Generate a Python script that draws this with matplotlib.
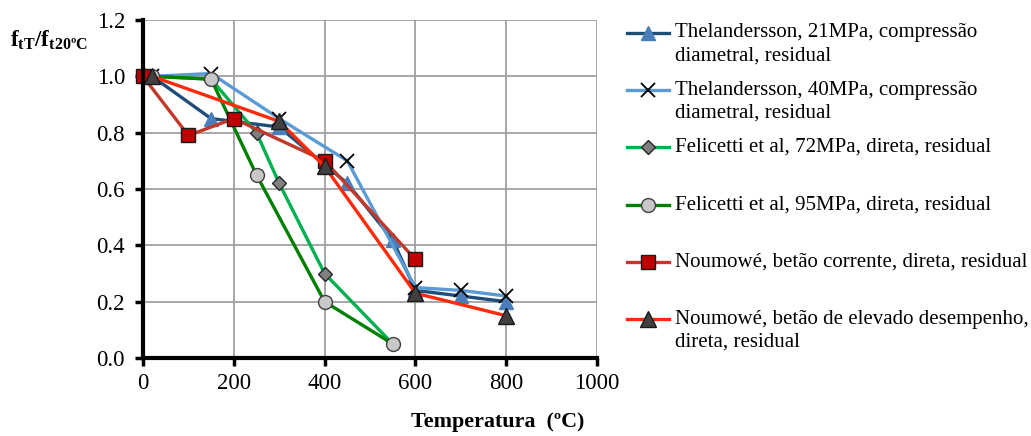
import matplotlib.pyplot as plt
from matplotlib.lines import Line2D

plt.rcParams['font.family'] = ['Liberation Serif', 'DejaVu Serif']
plt.rcParams['mathtext.fontset'] = 'custom'
plt.rcParams['mathtext.rm'] = 'Liberation Serif'
plt.rcParams['mathtext.bf'] = 'Liberation Serif:bold'

# dados (temperatura em ºC, fT/f20)
t_thel21 = [20, 150, 300, 450, 550, 600, 700, 800]
v_thel21 = [1.00, 0.85, 0.82, 0.62, 0.42, 0.24, 0.22, 0.20]

t_thel40 = [20, 150, 300, 450, 600, 700, 800]
v_thel40 = [1.00, 1.01, 0.85, 0.70, 0.25, 0.24, 0.22]

t_fel72 = [20, 150, 250, 300, 400, 550]
v_fel72 = [1.00, 0.99, 0.80, 0.62, 0.30, 0.05]

t_fel95 = [20, 150, 250, 400, 550]
v_fel95 = [1.00, 0.99, 0.65, 0.20, 0.05]

t_nou_c = [0, 100, 200, 400, 600]
v_nou_c = [1.00, 0.79, 0.85, 0.70, 0.35]

t_nou_hp = [20, 300, 400, 600, 800]
v_nou_hp = [1.00, 0.84, 0.68, 0.23, 0.15]

labels = ['Thelandersson, 21MPa, compressão\ndiametral, residual',
          'Thelandersson, 40MPa, compressão\ndiametral, residual',
          'Felicetti et al, 72MPa, direta, residual',
          'Felicetti et al, 95MPa, direta, residual',
          'Noumowé, betão corrente, direta, residual',
          'Noumowé, betão de elevado desempenho,\ndireta, residual']

xticks = [0, 200, 400, 600, 800, 1000]
yticks = [0.0, 0.2, 0.4, 0.6, 0.8, 1.0, 1.2]

# estilos: cor da linha, marcador, tamanho, cor de preenchimento, cor do contorno
estilos = [
    dict(color='#1F4E79', marker='^', ms=10, mfc='#4A7EBB', mec='#4A7EBB'),
    dict(color='#5B9BD5', marker='x', ms=10, mfc='black', mec='black', mew=1.3),
    dict(color='#00B050', marker='D', ms=7, mfc='#7F7F7F', mec='#262626', mew=1.0),
    dict(color='#008000', marker='o', ms=10, mfc='#C8C8C8', mec='#404040', mew=1.0),
    dict(color='#C0392B', marker='s', ms=10, mfc='#C00000', mec='#1A1A1A', mew=1.0),
    dict(color='#FF2A0A', marker='^', ms=11, mfc='#404040', mec='#1A1A1A', mew=1.0),
]
series = [(t_thel21, v_thel21), (t_thel40, v_thel40), (t_fel72, v_fel72),
          (t_fel95, v_fel95), (t_nou_c, v_nou_c), (t_nou_hp, v_nou_hp)]

fig = plt.figure(figsize=(10.31, 4.36), dpi=100)
ax = fig.add_axes([143 / 1031, 1 - 358 / 436, (597 - 143) / 1031, (358 - 20) / 436])

for (tx, vy), st in zip(series, estilos):
    ax.plot(tx, vy, lw=2.4, clip_on=False, **st)

ax.set_xlim(0, 1000)
ax.set_ylim(0, 1.2)
ax.set_xticks(xticks)
ax.set_yticks(yticks)
ax.set_yticklabels(['%.1f' % v for v in yticks])
ax.tick_params(labelsize=16.5, width=2.5, length=6, direction='out', colors='black')
ax.tick_params(axis='y', pad=7)
ax.tick_params(axis='x', pad=5)
ax.grid(True, color='#A0A0A0', lw=1.3)
ax.set_axisbelow(True)
for s in ['top', 'right']:
    ax.spines[s].set_visible(False)
for s in ['left', 'bottom']:
    ax.spines[s].set_linewidth(3)

fig.text(10 / 1031, 1 - 40 / 436, r'$\mathbf{f}_{\mathbf{tT}}\mathbf{/f}_{\mathbf{t20ºC}}$',
         fontsize=16.5, va='center', ha='left')
fig.text(498 / 1031, 1 - 422 / 436, 'Temperatura  (ºC)', fontsize=15.8,
         fontweight='bold', ha='center', va='center')

# legenda manual (marcador alinhado com a primeira linha do texto)
y0 = 33
for i, (lab, st) in enumerate(zip(labels, estilos)):
    yc = 1 - (y0 + i * 57.2) / 436
    fig.add_artist(Line2D([627 / 1031, 669 / 1031], [yc, yc], lw=2.4, color=st['color'],
                          transform=fig.transFigure))
    mk = {k: v for k, v in st.items() if k != 'color'}
    fig.add_artist(Line2D([648 / 1031], [yc], lw=0, transform=fig.transFigure,
                          marker=mk['marker'], markersize=mk['ms'], markerfacecolor=mk['mfc'],
                          markeredgecolor=mk['mec'], markeredgewidth=mk.get('mew', 1.0)))
    for j, linha in enumerate(lab.split('\n')):
        fig.text(675 / 1031, yc - j * 23 / 436, linha, fontsize=15, va='center', ha='left')

fig.savefig('out.png', dpi=100)
